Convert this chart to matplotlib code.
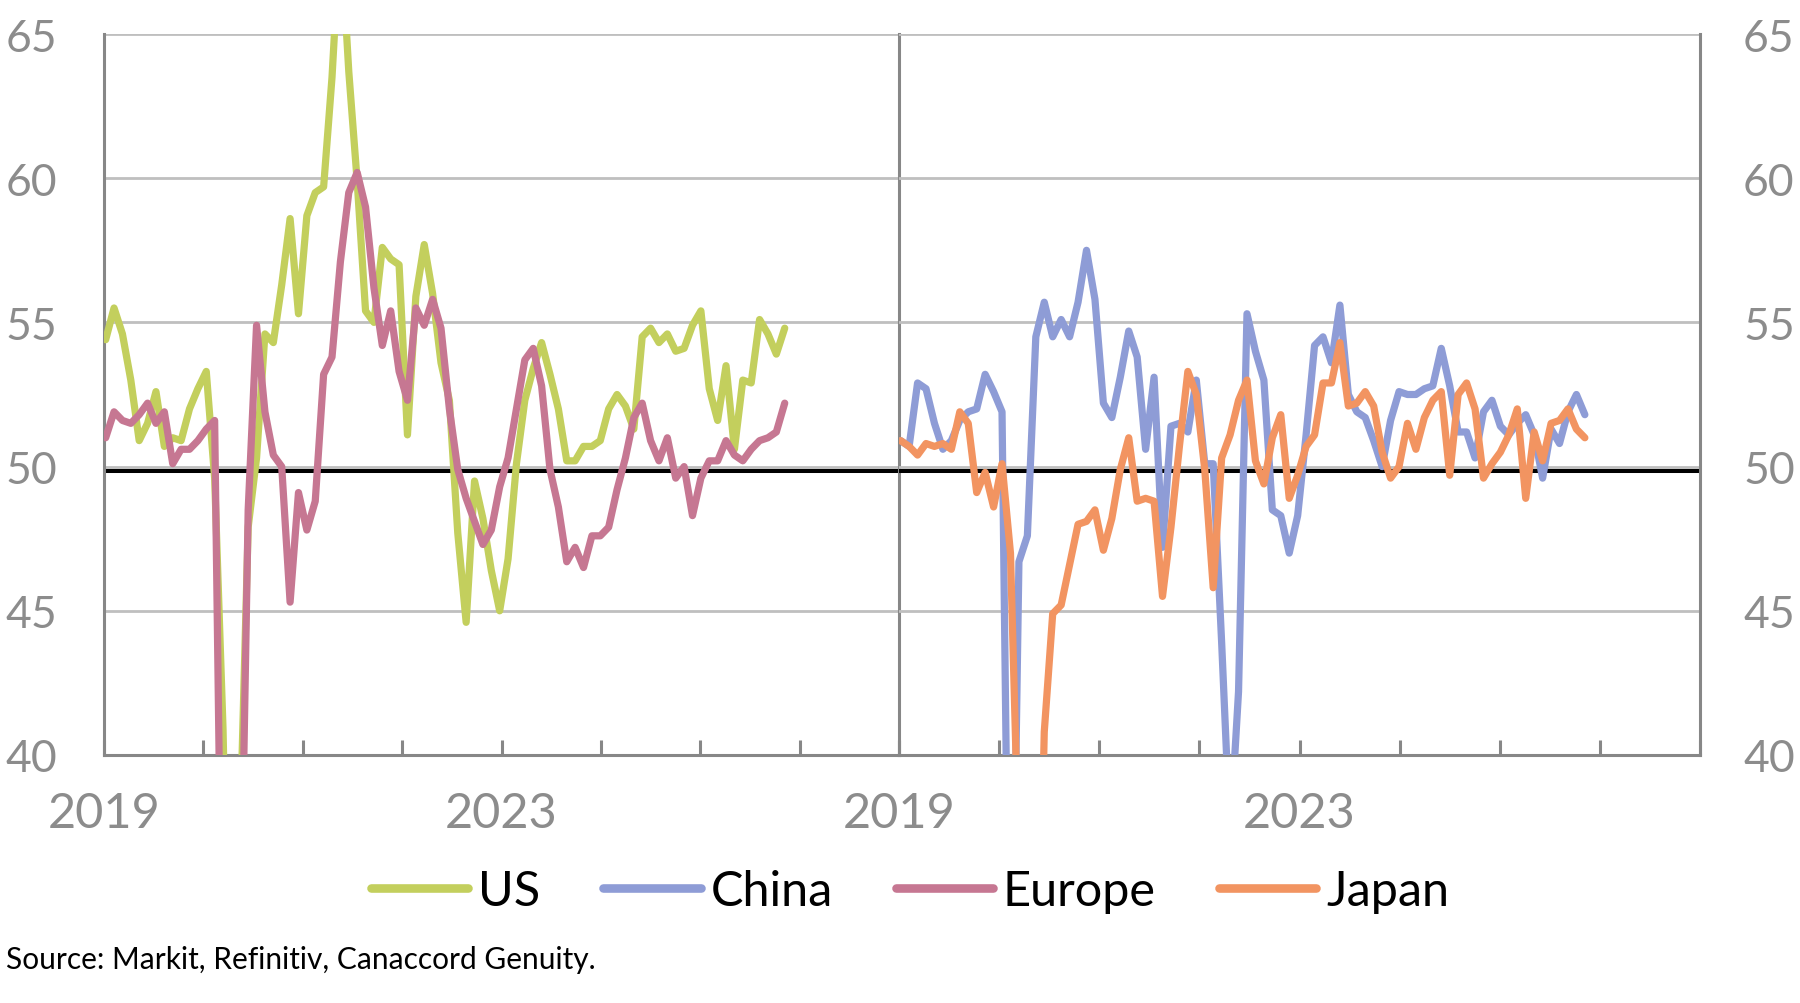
import matplotlib
matplotlib.use("Agg")
import matplotlib.pyplot as plt
from matplotlib.lines import Line2D
import numpy as np

plt.rcParams['font.family'] = ['Lato', 'DejaVu Sans']

# ---- monthly composite PMI, Jan 2019 .. Oct 2025 ----
us = [54.4, 55.5, 54.6, 53.0, 50.9, 51.5, 52.6, 50.7, 51.0, 50.9, 52.0, 52.7,
      53.3, 49.6, 40.9, 27.0, 37.0, 47.9, 50.3, 54.6, 54.3, 56.3, 58.6, 55.3,
      58.7, 59.5, 59.7, 63.5, 68.7, 63.7, 59.9, 55.4, 55.0, 57.6, 57.2, 57.0,
      51.1, 55.9, 57.7, 56.0, 53.6, 52.3, 47.7, 44.6, 49.5, 48.2, 46.4, 45.0,
      46.8, 50.1, 52.3, 53.4, 54.3, 53.2, 52.0, 50.2, 50.2, 50.7, 50.7, 50.9,
      52.0, 52.5, 52.1, 51.3, 54.5, 54.8, 54.3, 54.6, 54.0, 54.1, 54.9, 55.4,
      52.7, 51.6, 53.5, 50.6, 53.0, 52.9, 55.1, 54.6, 53.9, 54.8]
europe = [51.0, 51.9, 51.6, 51.5, 51.8, 52.2, 51.5, 51.9, 50.1, 50.6, 50.6, 50.9,
          51.3, 51.6, 29.7, 13.6, 31.9, 48.5, 54.9, 51.9, 50.4, 50.0, 45.3, 49.1,
          47.8, 48.8, 53.2, 53.8, 57.1, 59.5, 60.2, 59.0, 56.2, 54.2, 55.4, 53.3,
          52.3, 55.5, 54.9, 55.8, 54.8, 52.0, 49.9, 48.9, 48.1, 47.3, 47.8, 49.3,
          50.3, 52.0, 53.7, 54.1, 52.8, 49.9, 48.6, 46.7, 47.2, 46.5, 47.6, 47.6,
          47.9, 49.2, 50.3, 51.7, 52.2, 50.9, 50.2, 51.0, 49.6, 50.0, 48.3, 49.6,
          50.2, 50.2, 50.9, 50.4, 50.2, 50.6, 50.9, 51.0, 51.2, 52.2]
china = [50.9, 50.7, 52.9, 52.7, 51.5, 50.6, 50.9, 51.6, 51.9, 52.0, 53.2, 52.6,
         51.9, 27.5, 46.7, 47.6, 54.5, 55.7, 54.5, 55.1, 54.5, 55.7, 57.5, 55.8,
         52.2, 51.7, 53.1, 54.7, 53.8, 50.6, 53.1, 47.2, 51.4, 51.5, 51.2, 53.0,
         50.1, 50.1, 43.9, 37.2, 42.2, 55.3, 54.0, 53.0, 48.5, 48.3, 47.0, 48.3,
         51.1, 54.2, 54.5, 53.6, 55.6, 52.5, 51.9, 51.7, 50.9, 50.0, 51.6, 52.6,
         52.5, 52.5, 52.7, 52.8, 54.1, 52.8, 51.2, 51.2, 50.3, 51.9, 52.3, 51.4,
         51.1, 51.5, 51.8, 51.1, 49.6, 51.3, 50.8, 51.9, 52.5, 51.8]
japan = [50.9, 50.7, 50.4, 50.8, 50.7, 50.8, 50.6, 51.9, 51.5, 49.1, 49.8, 48.6,
         50.1, 47.0, 36.2, 25.8, 27.8, 40.8, 44.9, 45.2, 46.6, 48.0, 48.1, 48.5,
         47.1, 48.2, 49.9, 51.0, 48.8, 48.9, 48.8, 45.5, 47.9, 50.7, 53.3, 52.5,
         49.9, 45.8, 50.3, 51.1, 52.3, 53.0, 50.2, 49.4, 51.0, 51.8, 48.9, 49.7,
         50.7, 51.1, 52.9, 52.9, 54.3, 52.1, 52.2, 52.6, 52.1, 50.5, 49.6, 50.0,
         51.5, 50.6, 51.7, 52.3, 52.6, 49.7, 52.5, 52.9, 52.0, 49.6, 50.1, 50.5,
         51.1, 52.0, 48.9, 51.2, 50.2, 51.5, 51.6, 52.0, 51.3, 51.0]

names = ['US', 'China', 'Europe', 'Japan']
colors = {'US': '#C3CF5D', 'China': '#8E9CD6', 'Europe': '#C67792', 'Japan': '#F29461'}
year_ticks = list(range(2019, 2028))
year_labels = ['2019', '', '', '', '2023', '', '', '', '']
y_ticks = [40, 45, 50, 55, 60, 65]

n = len(us)
xpos = np.linspace(2019 + 0.2 / 12, 2019 + 82.2 / 12, n)

W, H = 1800, 1004
fig = plt.figure(figsize=(W / 100, H / 100), dpi=100)
bot = 1 - 756 / H
hgt = (756 - 35) / H
axL = fig.add_axes([104 / W, bot, (899 - 104) / W, hgt])
axR = fig.add_axes([899 / W, bot, (1700 - 899) / W, hgt])
axR.patch.set_visible(False)

spine_c = '#878787'
grid_c = '#BFBFBF'
tick_c = '#8C8C8C'

for ax in (axL, axR):
    ax.set_xlim(2019, 2027)
    ax.set_ylim(40, 65)
    ax.set_yticks(y_ticks)
    ax.set_xticks(year_ticks)
    ax.set_xticklabels(year_labels)
    ax.yaxis.grid(True, color=grid_c, lw=2.0, zorder=0)
    ax.set_axisbelow(True)
    ax.axhline(49.85, color='black', lw=2.9, zorder=1.5)
    ax.spines['top'].set_visible(False)
    for s in ('left', 'right', 'bottom'):
        ax.spines[s].set_color(spine_c)
        ax.spines[s].set_linewidth(2.2)
    ax.tick_params(axis='x', direction='in', length=11, width=2.2, color=spine_c,
                   pad=26, labelsize=35, labelcolor=tick_c)
    ax.tick_params(axis='y', length=0, pad=34, labelsize=32, labelcolor=tick_c)

axR.spines['left'].set_visible(False)
axR.yaxis.tick_right()
axR.tick_params(axis='y', length=0, pad=31)

lw = 5.2
axL.plot(xpos, us, color=colors['US'], lw=lw, solid_joinstyle='round', solid_capstyle='round', zorder=3)
axL.plot(xpos, europe, color=colors['Europe'], lw=lw, solid_joinstyle='round', solid_capstyle='round', zorder=4)
axR.plot(xpos, china, color=colors['China'], lw=lw, solid_joinstyle='round', solid_capstyle='round', zorder=3)
axR.plot(xpos, japan, color=colors['Japan'], lw=lw, solid_joinstyle='round', solid_capstyle='round', zorder=4)

handles = [Line2D([0], [0], color=colors[k], lw=6.2, solid_capstyle='round') for k in names]
fig.legend(handles, names, loc='center', bbox_to_anchor=(910 / W, 1 - 892 / H), ncol=4,
           frameon=False, fontsize=35, handlelength=2.0, handletextpad=0.2,
           columnspacing=1.3)

fig.text(6 / W, 1 - 960 / H, 'Source: Markit, Refinitiv, Canaccord Genuity.',
         fontsize=21.5, ha='left', va='center', color='black')

fig.savefig('out.png', dpi=100)
